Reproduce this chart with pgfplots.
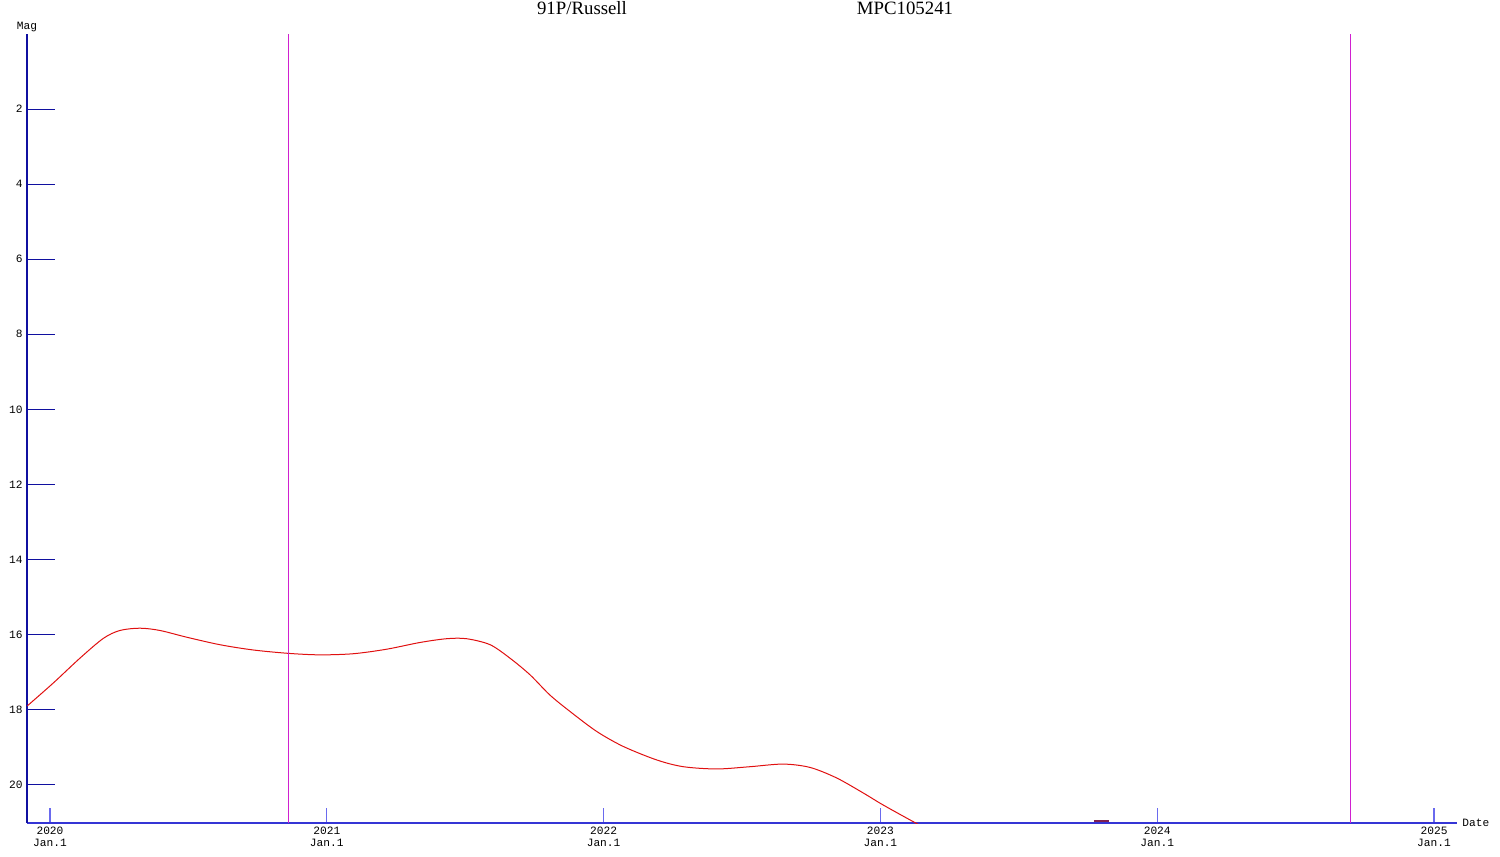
\documentclass[border=0pt]{standalone}
\usepackage{fontspec}
\setmainfont{Liberation Serif}
\newfontfamily\monofont{Liberation Mono}
\usepackage{pgfplots}
\pgfplotsset{compat=1.18}
\definecolor{axnavy}{HTML}{1010A0}
\definecolor{axblue}{HTML}{3535D5}
\definecolor{tickblue}{HTML}{6A6AEE}
\definecolor{curvered}{HTML}{E01010}
\definecolor{vmag}{HTML}{D020D0}
\definecolor{darkseg}{HTML}{802050}
\begin{document}
\begin{tikzpicture}[x=1pt,y=1pt]
\useasboundingbox (-13.5,-17) rectangle (736.5,411.5);
\begin{axis}[
  at={(0,0)}, anchor=south west,
  scale only axis,
  width=715pt, height=394.5pt,
  xmin=2019.917, xmax=2025.083,
  ymin=0, ymax=21.02,
  y dir=reverse,
  separate axis lines,
  axis x line*=bottom,
  axis y line*=left,
  x axis line style={axblue, line width=0.6pt, -},
  y axis line style={axnavy, line width=0.6pt, -},
  xtick={2020,2021,2022,2023,2024,2025},
  xticklabels={{2020\\Jan.1},{2021\\Jan.1},{2022\\Jan.1},{2023\\Jan.1},{2024\\Jan.1},{2025\\Jan.1}},
  ytick={2,4,6,8,10,12,14,16,18,20},
  yticklabels={2,4,6,8,10,12,14,16,18,20},
  tick align=inside,
  xtick style={tickblue, line width=0.6pt, /pgfplots/major tick length=7.5pt},
  ytick style={axnavy, line width=0.5pt, /pgfplots/major tick length=14pt},
  minor tick num=0,
  xticklabel style={font=\monofont\fontsize{5.6}{6}\selectfont, align=center, inner sep=0pt, yshift=-2pt},
  yticklabel style={font=\monofont\fontsize{5.6}{6}\selectfont, inner sep=0pt, xshift=-2pt},
  clip=true,
]
\addplot[curvered, line width=0.5pt, smooth, tension=0.5] coordinates {
(2019.918,17.90) (2020.012,17.29) (2020.108,16.63) (2020.193,16.10)
(2020.253,15.89) (2020.325,15.83) (2020.397,15.89) (2020.494,16.07)
(2020.614,16.27) (2020.734,16.41) (2020.861,16.50) (2020.975,16.54)
(2021.096,16.51) (2021.216,16.39) (2021.337,16.21) (2021.433,16.11)
(2021.505,16.11) (2021.590,16.27) (2021.662,16.63) (2021.734,17.07)
(2021.806,17.61) (2021.879,18.05) (2021.975,18.58) (2022.071,18.98)
(2022.192,19.34) (2022.288,19.52) (2022.409,19.58) (2022.529,19.52)
(2022.649,19.45) (2022.746,19.54) (2022.842,19.82) (2022.938,20.22)
(2023.010,20.54) (2023.125,21.01) (2023.200,21.30)
};
\addplot[darkseg, line width=0.7pt] coordinates {
(2023.772,20.97) (2023.826,20.97)
};
\addplot[vmag, line width=0.6pt] coordinates {(2020.863,0) (2020.863,21.02)};
\addplot[vmag, line width=0.6pt] coordinates {(2024.697,0) (2024.697,21.02)};
\end{axis}
\node[font=\monofont\fontsize{5.6}{6}\selectfont, anchor=south, inner sep=0pt] at (0,395.5) {Mag};
\node[font=\monofont\fontsize{5.6}{6}\selectfont, anchor=west, inner sep=0pt] at (717.5,0) {Date};
\node[font=\fontsize{9.4}{10}\selectfont, inner sep=0pt] at (277.5,407.5) {91P/Russell};
\node[font=\fontsize{9.4}{10}\selectfont, inner sep=0pt] at (439,407.5) {MPC105241};
\end{tikzpicture}
\end{document}
